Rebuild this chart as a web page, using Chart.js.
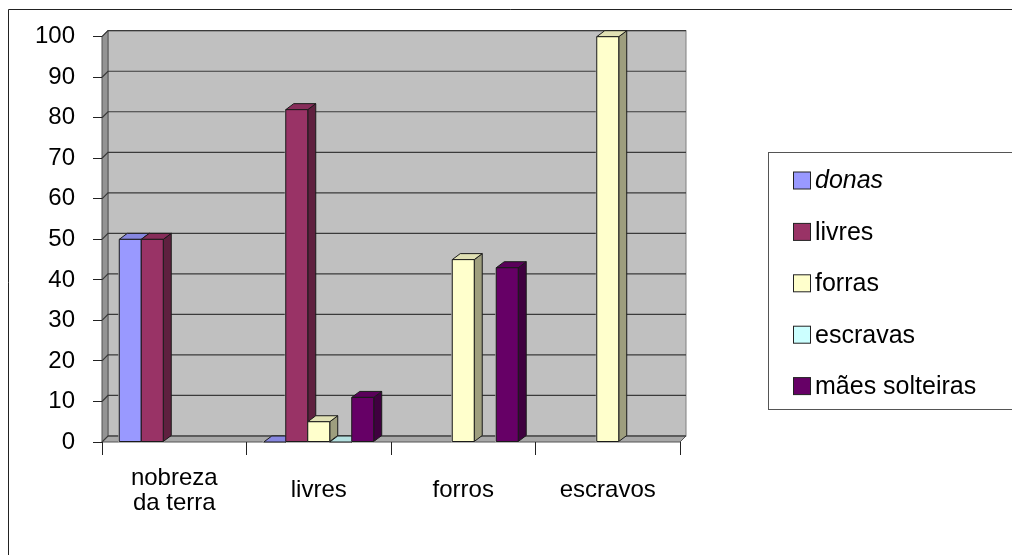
<!DOCTYPE html>
<html>
<head>
<meta charset="utf-8">
<script src="https://cdn.jsdelivr.net/npm/chart.js@4.4.1/dist/chart.umd.min.js"></script>
<style>
body{margin:0;background:#fff}
canvas{display:block}
</style>
</head>
<body>
<canvas id="grafico" width="1012" height="555"></canvas>
<script>

let categorias=[["nobreza","da terra"],"livres","forros","escravos"]

let nomes=["donas","livres","forras","escravas","mães solteiras"]

let donas=[50,0,null,null]
let livres=[50,82,null,null]
let forras=[null,5,45,100]
let escravas=[null,0,null,null]
let maes=[null,11,43,null]

let cores=["#9999FF","#993366","#FFFFCC","#CCFFFF","#660066"]

let marcasY=[0,10,20,30,40,50,60,70,80,90,100]

// profundidade das paredes e das colunas
let PAREDE_DX=6, PAREDE_DY=6
let BARRA_DX=8, BARRA_DY=6

let fonte="'Liberation Sans', Arial, sans-serif"

Chart.defaults.font.family=fonte
Chart.defaults.color="#000"

function tom(hex,f){
let n=parseInt(hex.slice(1),16)
let r=Math.round(((n>>16)&255)*f), g=Math.round(((n>>8)&255)*f), b=Math.round((n&255)*f)
return "rgb("+Math.min(r,255)+","+Math.min(g,255)+","+Math.min(b,255)+")"
}

// moldura, paredes, piso e linhas de grade em perspectiva
let fundo={
id:"fundo",
beforeDraw(chart){
let ctx=chart.ctx
let a=chart.chartArea
let y=chart.scales.y
ctx.save()
ctx.fillStyle="#fff"
ctx.fillRect(0,0,chart.width,chart.height)

ctx.strokeStyle="#222"
ctx.lineWidth=1
ctx.beginPath()
ctx.moveTo(8.5,chart.height)
ctx.lineTo(8.5,9.5)
ctx.lineTo(chart.width,9.5)
ctx.stroke()

// parede do fundo
ctx.fillStyle="#C0C0C0"
ctx.fillRect(a.left+PAREDE_DX,a.top-PAREDE_DY,a.right-a.left,a.bottom-a.top)
ctx.strokeStyle="#808080"
ctx.strokeRect(a.left+PAREDE_DX,a.top-PAREDE_DY,a.right-a.left,a.bottom-a.top)

// parede lateral
ctx.fillStyle="#949494"
ctx.beginPath()
ctx.moveTo(a.left,a.top)
ctx.lineTo(a.left+PAREDE_DX,a.top-PAREDE_DY)
ctx.lineTo(a.left+PAREDE_DX,a.bottom-PAREDE_DY)
ctx.lineTo(a.left,a.bottom)
ctx.closePath()
ctx.fill()
ctx.strokeStyle="#555"
ctx.stroke()

// piso
ctx.fillStyle="#A8A8A8"
ctx.beginPath()
ctx.moveTo(a.left,a.bottom)
ctx.lineTo(a.left+PAREDE_DX,a.bottom-PAREDE_DY)
ctx.lineTo(a.right+PAREDE_DX,a.bottom-PAREDE_DY)
ctx.lineTo(a.right,a.bottom)
ctx.closePath()
ctx.fill()
ctx.strokeStyle="#555"
ctx.stroke()

// grade
ctx.strokeStyle="#3a3a3a"
ctx.lineWidth=1.2
marcasY.forEach(v=>{
let py=y.getPixelForValue(v)
ctx.beginPath()
ctx.moveTo(a.left,py)
ctx.lineTo(a.left+PAREDE_DX,py-PAREDE_DY)
ctx.lineTo(a.right+PAREDE_DX,py-PAREDE_DY)
ctx.stroke()
})
ctx.restore()
}
}

function caixa(ctx,esq,dir,topo,base,cor){
ctx.strokeStyle="#1a1a1a"
ctx.lineWidth=1
ctx.lineJoin="round"

ctx.fillStyle=tom(cor,0.62)
ctx.beginPath()
ctx.moveTo(dir,topo)
ctx.lineTo(dir+BARRA_DX,topo-BARRA_DY)
ctx.lineTo(dir+BARRA_DX,base-BARRA_DY)
ctx.lineTo(dir,base)
ctx.closePath()
ctx.fill()
ctx.stroke()

ctx.fillStyle=tom(cor,0.88)
ctx.beginPath()
ctx.moveTo(esq,topo)
ctx.lineTo(esq+BARRA_DX,topo-BARRA_DY)
ctx.lineTo(dir+BARRA_DX,topo-BARRA_DY)
ctx.lineTo(dir,topo)
ctx.closePath()
ctx.fill()
ctx.stroke()

if(base-topo>0){
ctx.fillStyle=cor
ctx.fillRect(esq,topo,dir-esq,base-topo)
ctx.strokeRect(esq,topo,dir-esq,base-topo)
}
}

// colunas em 3D, desenhadas da esquerda para a direita
let colunas3d={
id:"colunas3d",
afterDatasetsDraw(chart){
let ctx=chart.ctx
let lista=[]
chart.data.datasets.forEach((ds,i)=>{
chart.getDatasetMeta(i).data.forEach((el,j)=>{
if(ds.data[j]==null) return
let p=el.getProps(["x","y","base","width"],true)
if(!isFinite(p.y)||!isFinite(p.base)) return
lista.push({p:p,cor:ds.backgroundColor})
})
})
lista.sort((u,v)=>u.p.x-v.p.x)
ctx.save()
ctx.fillStyle="#C0C0C0"
lista.forEach(b=>{
let esq=b.p.x-b.p.width/2, dir=b.p.x+b.p.width/2
ctx.fillRect(esq-1,Math.min(b.p.y,b.p.base)-1,dir-esq+2,Math.abs(b.p.base-b.p.y)+2)
})
lista.forEach(b=>{
let esq=b.p.x-b.p.width/2, dir=b.p.x+b.p.width/2
caixa(ctx,esq,dir,Math.min(b.p.y,b.p.base),Math.max(b.p.y,b.p.base),b.cor)
})
ctx.restore()
}
}

// legenda com moldura
let legenda={
id:"legenda",
afterDraw(chart){
let ctx=chart.ctx
ctx.save()
ctx.strokeStyle="#555"
ctx.lineWidth=1
ctx.strokeRect(768.5,152.5,300,257)
ctx.textBaseline="middle"
chart.data.datasets.forEach((ds,i)=>{
let yc=180.5+i*51.4
ctx.fillStyle=ds.backgroundColor
ctx.fillRect(793.5,yc-8.5,17,17)
ctx.strokeStyle="#222"
ctx.strokeRect(793.5,yc-8.5,17,17)
ctx.fillStyle="#000"
ctx.font=(i==0?"italic ":"")+"25px "+fonte
ctx.fillText(ds.label,815,yc+1)
})
ctx.restore()
}
}

let valores=[donas,livres,forras,escravas,maes]

new Chart(document.getElementById("grafico"),{
type:"bar",
data:{
labels:categorias,
datasets:valores.map((v,i)=>({
label:nomes[i],
data:v,
backgroundColor:cores[i],
borderColor:"#1a1a1a",
borderWidth:1,
categoryPercentage:0.761,
barPercentage:1
}))
},
options:{
responsive:false,
animation:false,
layout:{padding:{top:36.7,right:332,left:0,bottom:0}},
plugins:{legend:{display:false},tooltip:{enabled:false}},
scales:{
y:{
min:0,
max:100,
afterBuildTicks:s=>{s.ticks=marcasY.map(v=>({value:v}))},
afterFit:s=>{s.width=102},
ticks:{font:{size:24},color:"#000",padding:18},
grid:{drawOnChartArea:false,drawTicks:true,tickLength:9,tickColor:"#222",tickWidth:1},
border:{display:false}
},
x:{
afterFit:s=>{s.height=113},
ticks:{font:{size:24,lineHeight:1.05},color:"#000",padding:23,maxRotation:0,autoSkip:false,crossAlign:"center"},
grid:{offset:true,drawOnChartArea:false,drawTicks:true,tickLength:13,tickColor:"#222",tickWidth:1},
border:{display:false}
}
}
},
plugins:[fundo,colunas3d,legenda]
})

</script>
</body>
</html>
